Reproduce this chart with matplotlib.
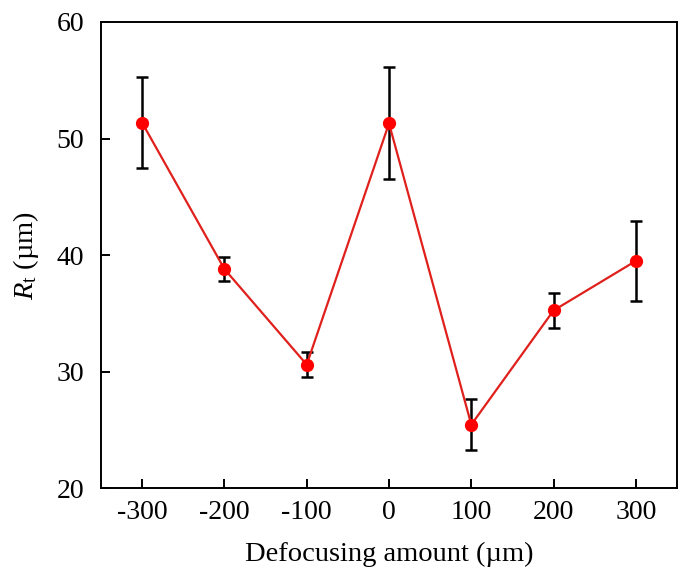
import matplotlib
matplotlib.use("Agg")
import matplotlib.pyplot as plt
import numpy as np

# values
defocus = [-300, -200, -100, 0, 100, 200, 300]
rt_mean = [51.35, 38.8, 30.6, 51.3, 25.45, 35.25, 39.5]
rt_err = [3.9, 1.0, 1.1, 4.8, 2.2, 1.5, 3.4]

plt.rcParams['font.family'] = ['Liberation Serif', 'DejaVu Serif']
plt.rcParams['mathtext.fontset'] = 'custom'
plt.rcParams['mathtext.rm'] = 'Liberation Serif'
plt.rcParams['mathtext.it'] = 'Liberation Serif:italic'

fig = plt.figure(figsize=(6.89, 5.74), dpi=100)
ax = fig.add_axes([0.1466, 0.1495, 0.8360, 0.8122])

# error bars under the line and markers
ax.errorbar(defocus, rt_mean, yerr=rt_err, fmt='none', ecolor='black',
            elinewidth=1.8, capsize=4.2, capthick=1.8, zorder=2)
ax.plot(defocus, rt_mean, color='#e0201c', lw=1.6, zorder=3)
ax.plot(defocus, rt_mean, 'o', color='red', markersize=8.5, zorder=4)

ax.set_xlim(-350, 350)
ax.set_ylim(20, 60)
ax.set_xticks(defocus)
ax.set_xticklabels([str(d) for d in defocus])
ax.set_yticks([20, 30, 40, 50, 60])

for side in ['top', 'right', 'left', 'bottom']:
    ax.spines[side].set_linewidth(1.4)

ax.tick_params(axis='both', direction='in', length=6.5, width=1.4,
               labelsize=20, top=False, right=False)
ax.tick_params(axis='x', pad=8.5)
ax.tick_params(axis='y', pad=12)

ax.set_xlabel('Defocusing amount (µm)', fontsize=20.5, labelpad=12)
ax.set_ylabel(r'$R_{\rm t}$ (µm)', fontsize=20.5, labelpad=11)

fig.savefig('out.png', dpi=100)
